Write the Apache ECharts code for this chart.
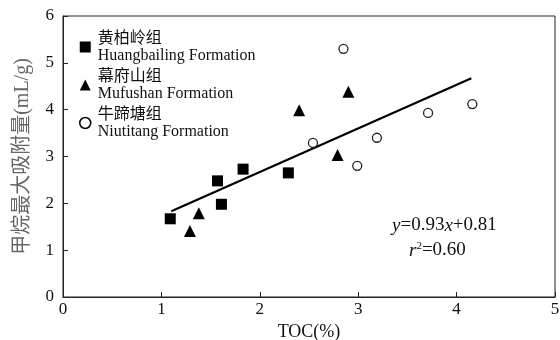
<!DOCTYPE html>
<html>
<head>
<meta charset="utf-8">
<script src="https://cdn.jsdelivr.net/npm/echarts@6/dist/echarts.min.js"></script>
<style>
  html, body { margin: 0; padding: 0; background: #fff; }
  #chart { width: 560px; height: 340px; }
</style>
</head>
<body>
<div id="chart"></div>
<script>
// 黄柏岭组 / 幕府山组 / 牛蹄塘组: [TOC, 最大吸附量]
const huangbailing = [[1.09, 1.67], [1.57, 2.48], [1.61, 1.98], [1.83, 2.73], [2.29, 2.65]];
const mufushan = [[1.29, 1.41], [1.38, 1.79], [2.40, 3.99], [2.79, 3.03], [2.90, 4.38]];
const niutitang = [[2.85, 5.30], [2.54, 3.29], [2.99, 2.80], [3.19, 3.40], [3.71, 3.93], [4.16, 4.12]];
const fitLine = [[1.1, 1.83], [4.15, 4.67]];
const seriesNames = ['黄柏岭组\nHuangbailing Formation', '幕府山组\nMufushan Formation', '牛蹄塘组\nNiutitang Formation'];

const FONT = '"Liberation Serif", "Noto Sans CJK SC", serif';

const chart = echarts.init(document.getElementById('chart'));
chart.setOption({
    animation: false,
    backgroundColor: '#fff',
    textStyle: { fontFamily: FONT },
    grid: {
        left: 63, right: 5, top: 16, bottom: 43, outerBoundsMode: 'none',
        show: true, borderColor: '#222', borderWidth: 1
    },
    legend: {
        orient: 'vertical', left: 74, top: 25,
        itemGap: 4, itemWidth: 11, itemHeight: 11,
        textStyle: { fontFamily: FONT, fontSize: 16, color: '#111', lineHeight: 17, padding: [0, 0, 0, 2] },
        data: [
            { name: seriesNames[0], icon: 'rect', itemStyle: { color: '#000', opacity: 1 } },
            { name: seriesNames[1], icon: 'triangle', itemStyle: { color: '#000', opacity: 1 } },
            { name: seriesNames[2], icon: 'circle', itemStyle: { color: '#fff', borderColor: '#000', borderWidth: 1.5 } }
        ]
    },
    xAxis: {
        type: 'value', min: 0, max: 5, interval: 1,
        name: 'TOC(%)', nameLocation: 'middle', nameGap: 23,
        nameTextStyle: { fontFamily: FONT, fontSize: 18, color: '#111' },
        axisLine: { lineStyle: { color: '#222' } },
        axisTick: { inside: true, length: 5, lineStyle: { color: '#222' } },
        axisLabel: { fontFamily: FONT, fontSize: 17, color: '#111', margin: 4 },
        splitLine: { show: false }
    },
    yAxis: {
        type: 'value', min: 0, max: 6, interval: 1,
        name: '甲烷最大吸附量(mL/g)', nameLocation: 'middle', nameGap: 30,
        nameTextStyle: { fontFamily: FONT, fontSize: 20, color: '#666' },
        axisLine: { lineStyle: { color: '#222' } },
        axisTick: { inside: true, length: 5, lineStyle: { color: '#222' } },
        axisLabel: { fontFamily: FONT, fontSize: 17, color: '#111', margin: 9 },
        splitLine: { show: false }
    },
    series: [
        {
            name: seriesNames[0], type: 'scatter', data: huangbailing,
            symbol: 'rect', symbolSize: 11, itemStyle: { color: '#000', opacity: 1 }
        },
        {
            name: seriesNames[1], type: 'scatter', data: mufushan,
            symbol: 'triangle', symbolSize: 12, itemStyle: { color: '#000', opacity: 1 }
        },
        {
            name: seriesNames[2], type: 'scatter', data: niutitang,
            symbol: 'circle', symbolSize: 9,
            itemStyle: { color: '#fff', borderColor: '#222', borderWidth: 1.3, opacity: 1 }
        },
        {
            name: 'fit', type: 'line', data: fitLine, symbol: 'none',
            lineStyle: { color: '#000', width: 2.2 }, z: 1
        }
    ],
    graphic: [
        {
            type: 'text', left: 392, top: 216,
            style: {
                text: '{i|y}=0.93{i|x}+0.81',
                font: '19px ' + FONT, fill: '#111',
                rich: { i: { fontStyle: 'italic', fontFamily: FONT, fontSize: 19 } }
            }
        },
        {
            type: 'text', left: 409, top: 241,
            style: {
                text: '{i|r}{s|2}=0.60',
                font: '19px ' + FONT, fill: '#111',
                rich: {
                    i: { fontStyle: 'italic', fontFamily: FONT, fontSize: 19 },
                    s: { fontFamily: FONT, fontSize: 11, verticalAlign: 'top', padding: [0, 0, 8, 0] }
                }
            }
        }
    ]
});
</script>
</body>
</html>
